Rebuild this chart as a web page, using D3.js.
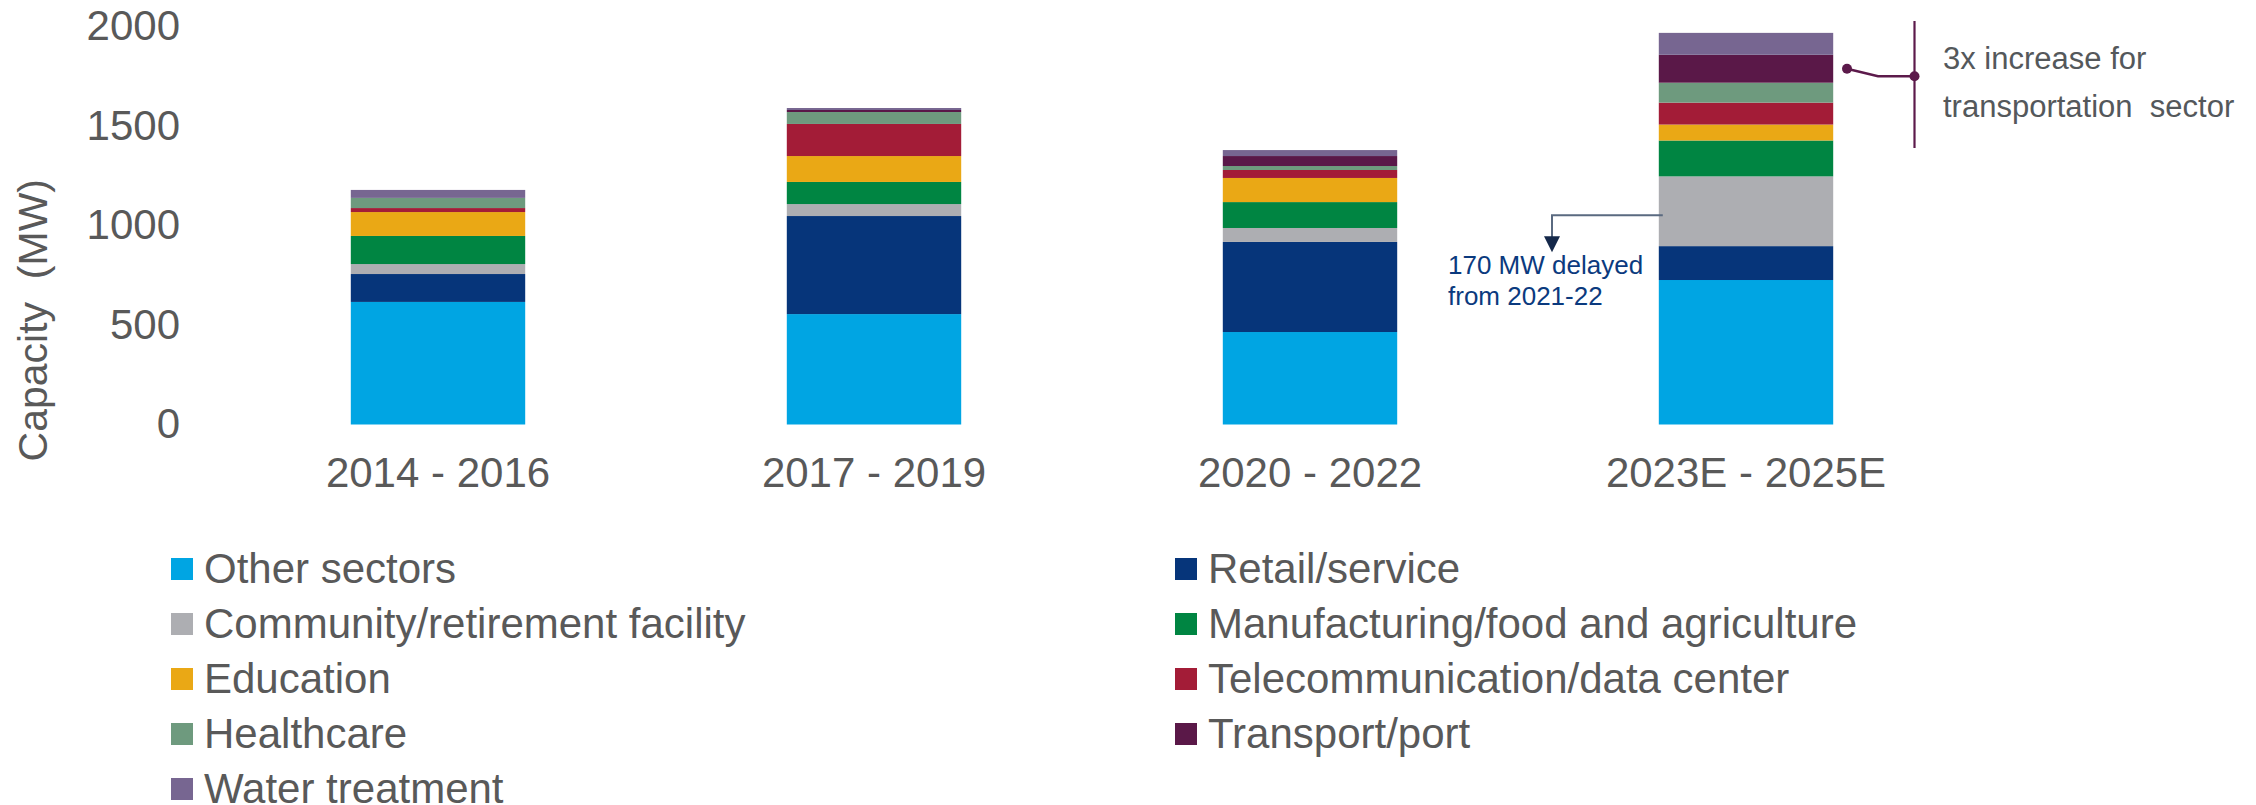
<!DOCTYPE html>
<html>
<head>
<meta charset="utf-8">
<script src="https://cdn.jsdelivr.net/npm/d3@7"></script>
<style>
    html, body { margin: 0; padding: 0; background: #fff; }
    svg text { font-family: "Liberation Sans", Arial, sans-serif; fill: #595959; }
</style>
</head>
<body>
<div id="chart"></div>
<script>
// periods on the x axis
const periods = ['2014 - 2016', '2017 - 2019', '2020 - 2022', '2023E - 2025E'];

// sectors, bottom of the stack first
const sectors = [
    'Other sectors',
    'Retail/service',
    'Community/retirement facility',
    'Manufacturing/food and agriculture',
    'Education',
    'Telecommunication/data center',
    'Healthcare',
    'Transport/port',
    'Water treatment',
];

const sectorColors = ['#00a5e3', '#06357a', '#adaeb2', '#008542', '#eaa815', '#a31c37', '#6e9a7e', '#5a1848', '#776691'];

// capacity (MW) per sector, one value per period
const otherSectors = [615, 554, 464, 725];
const retailService = [140, 492, 452, 170];
const community = [50, 60, 70, 350];
const manufacturing = [141, 111, 130, 180];
const education = [120, 130, 121, 80];
const telecom = [20, 161, 40, 110];
const healthcare = [51, 60, 20, 100];
const transport = [0, 10, 50, 140];
const waterTreatment = [40, 10, 30, 110];

const yTicks = [0, 500, 1000, 1500, 2000];

const width = 2256;
const height = 805;

const seriesValues = [otherSectors, retailService, community, manufacturing, education, telecom, healthcare, transport, waterTreatment];

// one row per period for d3.stack
const table = periods.map((period, i) => {
    const row = { period };
    sectors.forEach((s, j) => { row[s] = seriesValues[j][i]; });
    return row;
});

const stacked = d3.stack().keys(sectors)(table);

const svg = d3.select('#chart').append('svg')
    .attr('width', width)
    .attr('height', height);

const x = d3.scaleBand()
    .domain(periods)
    .range([220, 1964])
    .paddingInner(0.6)
    .paddingOuter(0.3);

const y = d3.scaleLinear()
    .domain([0, 2000])
    .range([424.5, 25.9]);

const color = d3.scaleOrdinal().domain(sectors).range(sectorColors);

// bars
svg.append('g')
    .selectAll('g')
    .data(stacked)
    .join('g')
    .attr('fill', d => color(d.key))
    .selectAll('rect')
    .data(d => d)
    .join('rect')
    .attr('x', d => x(d.data.period))
    .attr('width', x.bandwidth())
    .attr('y', d => y(d[1]))
    .attr('height', d => y(d[0]) - y(d[1]));

// y axis, labels only
const yAxis = svg.append('g')
    .attr('transform', 'translate(190,0)')
    .call(d3.axisLeft(y).tickValues(yTicks).tickFormat(d3.format('d')).tickSize(0).tickPadding(10));
yAxis.select('.domain').remove();
yAxis.selectAll('text').style('font-size', '42px').attr('fill', '#595959');

svg.append('text')
    .attr('transform', `translate(47,${(y(0) + y(2000)) / 2 + 95}) rotate(-90)`)
    .attr('text-anchor', 'middle')
    .style('font-size', '41px')
    .style('white-space', 'pre')
    .text('Capacity  (MW)');

// x axis, labels only
const xAxis = svg.append('g')
    .attr('transform', `translate(0,${y(0)})`)
    .call(d3.axisBottom(x).tickSize(0).tickPadding(33));
xAxis.select('.domain').remove();
xAxis.selectAll('text').style('font-size', '42px').attr('fill', '#595959');

// legend, two columns filled row by row
const legendX = [171, 1175];
const legend = svg.append('g')
    .selectAll('g')
    .data(sectors)
    .join('g')
    .attr('transform', (d, i) => `translate(${legendX[i % 2]},${558 + 55 * Math.floor(i / 2)})`);

legend.append('rect')
    .attr('width', 22)
    .attr('height', 22)
    .attr('fill', d => color(d));

legend.append('text')
    .attr('x', 33)
    .attr('y', 24.5)
    .style('font-size', '42px')
    .text(d => d);

// annotation: delayed retail capacity
const last = periods[3];
const commMid = y(1050);
const arrowX = 1552;
svg.append('path')
    .attr('d', `M${x(last) + 4},${commMid} H${arrowX} V${commMid + 24}`)
    .attr('fill', 'none')
    .attr('stroke', '#5a6a80')
    .attr('stroke-width', 2);
svg.append('path')
    .attr('d', `M${arrowX - 8},${commMid + 21} L${arrowX + 8},${commMid + 21} L${arrowX},${commMid + 37} Z`)
    .attr('fill', '#14284a');

const delayed = svg.append('text')
    .style('font-size', '26px')
    .style('fill', '#0b3a7e');
delayed.append('tspan').attr('x', 1448).attr('y', 274).text('170 MW delayed');
delayed.append('tspan').attr('x', 1448).attr('y', 305).text('from 2021-22');

// annotation: transport growth bracket
const tr = stacked[7][3];
const dotY = y((tr[0] + tr[1]) / 2);
const bracketX = 1914.5;
const annColor = '#5c1a4b';
svg.append('path')
    .attr('d', `M${bracketX},21 V148`)
    .attr('stroke', annColor)
    .attr('stroke-width', 2.2);
svg.append('path')
    .attr('d', `M1847,${dotY} L1878,${dotY + 7.5} H${bracketX}`)
    .attr('fill', 'none')
    .attr('stroke', annColor)
    .attr('stroke-width', 2.4);
svg.selectAll('circle.ann')
    .data([[1847, dotY], [bracketX, dotY + 7.5]])
    .join('circle')
    .attr('class', 'ann')
    .attr('cx', d => d[0])
    .attr('cy', d => d[1])
    .attr('r', 5)
    .attr('fill', annColor);

const growth = svg.append('text')
    .style('font-size', '31px')
    .style('white-space', 'pre')
    .style('fill', '#54585b');
growth.append('tspan').attr('x', 1943).attr('y', 69).text('3x increase for');
growth.append('tspan').attr('x', 1943).attr('y', 117).text('transportation  sector');
</script>
</body>
</html>
